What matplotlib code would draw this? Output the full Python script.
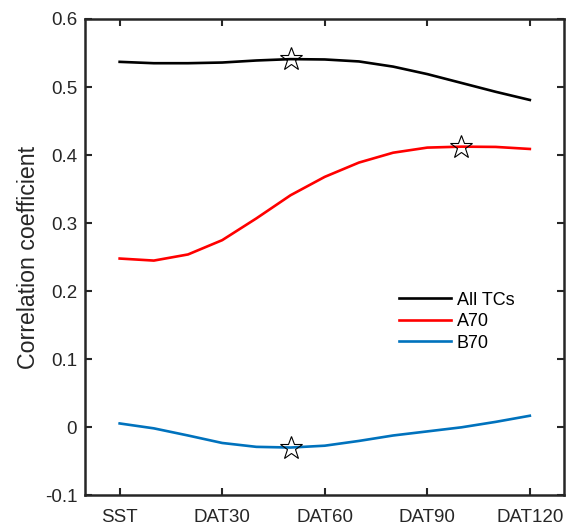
import matplotlib
matplotlib.use("Agg")
import matplotlib.pyplot as plt
import numpy as np

plt.rcParams['font.family'] = ['Liberation Sans', 'DejaVu Sans']

lags = ["SST", "DAT10", "DAT20", "DAT30", "DAT40", "DAT50", "DAT60",
        "DAT70", "DAT80", "DAT90", "DAT100", "DAT110", "DAT120"]
all_tcs = [0.537, 0.535, 0.535, 0.536, 0.539, 0.541, 0.5405, 0.5376,
           0.530, 0.519, 0.506, 0.493, 0.481]
a70 = [0.248, 0.245, 0.254, 0.275, 0.307, 0.341, 0.368, 0.389,
       0.4035, 0.411, 0.4124, 0.412, 0.409]
b70 = [0.0057, -0.0015, -0.012, -0.023, -0.0287, -0.0297, -0.027, -0.020,
       -0.012, -0.006, 0.0, 0.008, 0.017]
tick_labels = ["SST", "DAT30", "DAT60", "DAT90", "DAT120"]
star_all = "DAT50"
star_a70 = "DAT100"
star_b70 = "DAT50"

x = np.arange(len(lags))
fig = plt.figure(figsize=(5.66, 5.27), dpi=100)
ax = fig.add_axes([0.151, 0.06, 0.8455, 0.904])

lw = 1.9
ax.plot(x, all_tcs, color='black', lw=lw, label='All TCs')
ax.plot(x, a70, color='#ff0000', lw=lw, label='A70')
ax.plot(x, b70, color='#0072bd', lw=lw, label='B70')

for series, lab in [(all_tcs, star_all), (a70, star_a70), (b70, star_b70)]:
    i = lags.index(lab)
    ax.plot(x[i], series[i], marker='*', ms=17, mfc='none', mec='black',
            mew=0.8, ls='none')

ax.set_xlim(-1, 13)
ax.set_ylim(-0.1, 0.6)
ax.set_xticks([lags.index(t) for t in tick_labels])
ax.set_xticklabels(tick_labels)
ax.set_yticks(np.arange(-0.1, 0.61, 0.1))
ax.set_yticklabels(["-0.1", "0", "0.1", "0.2", "0.3", "0.4", "0.5", "0.6"])
ax.tick_params(direction='in', top=True, right=True, length=5, width=1.5,
               labelsize=13.5, colors='#262626', pad=6)
ax.tick_params(axis='x', pad=9.5)
for s in ax.spines.values():
    s.set_linewidth(1.8)
    s.set_color('#262626')
ax.set_ylabel("Correlation coefficient", fontsize=16.7, color='#262626', labelpad=3)

leg = ax.legend(loc='upper left', bbox_to_anchor=(0.64, 0.443), frameon=False,
                fontsize=13, handlelength=2.9, handletextpad=0.3,
                labelspacing=0.25, borderaxespad=0)

fig.savefig("out.png", dpi=100)
